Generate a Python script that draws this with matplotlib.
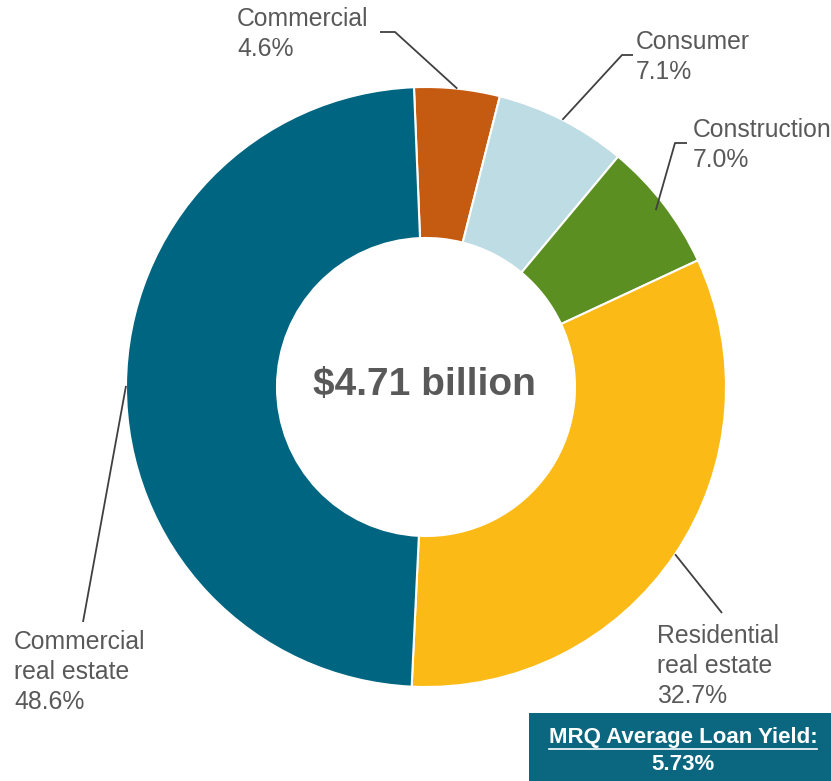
import numpy as np
import matplotlib.pyplot as plt
from matplotlib.patches import Rectangle

plt.rcParams['font.family'] = ['Liberation Sans', 'DejaVu Sans']

# loan portfolio mix, clockwise from the top
categories = ['Commercial', 'Consumer', 'Construction', 'Residential\nreal estate', 'Commercial\nreal estate']
shares = [4.6, 7.1, 7.0, 32.7, 48.6]
colors = ['#C55A11', '#BDDCE4', '#5B8F22', '#FBBA16', '#006580']
total_label = '$4.71 billion'
yield_label = 'MRQ Average Loan Yield:'
yield_value = '5.73%'

W, H = 831, 781
def Y(y):
    return H - y

fig = plt.figure(figsize=(W / 100, H / 100), dpi=100)
ax = fig.add_axes([0, 0, 1, 1])

cx, cy, R = 426, Y(387), 300
wedges, _ = ax.pie(shares, colors=colors, startangle=92.3, counterclock=False,
                   radius=R, center=(cx, cy),
                   wedgeprops=dict(width=151, edgecolor='white', linewidth=1.5))

ax.text(cx - 2, Y(385), total_label, ha='center', va='center', fontsize=28,
        fontweight='bold', color='#595959')

# label positions (left x, block centre y) and leader line elbows
label_pos = [(237, 34), (636, 57), (693, 145), (657, 666), (14, 672)]
elbows = [[(395, 32), (380, 32)],
          [(622, 55), (633, 55)],
          [(675, 143), (687, 143)],
          [(722, 613)],
          [(83, 622)]]
start_r = [300, 300, 290, 300, 300]

for w, cat, val, (lx, ly), elb, sr in zip(wedges, categories, shares, label_pos, elbows, start_r):
    mid = np.deg2rad((w.theta1 + w.theta2) / 2)
    xs = [cx + sr * np.cos(mid)] + [p[0] for p in elb]
    ys = [cy + sr * np.sin(mid)] + [Y(p[1]) for p in elb]
    ax.plot(xs, ys, color='#404040', lw=1.3, solid_capstyle='butt')
    ax.text(lx, Y(ly), f'{cat}\n{val:.1f}%', ha='left', va='center', fontsize=17.8,
            color='#595959', linespacing=1.31)

# yield box in the lower right corner
ax.add_patch(Rectangle((529, 0), W - 529, 68, facecolor='#0B6680', edgecolor='none'))
t1 = ax.text(683, Y(737), yield_label, ha='center', va='center', fontsize=16,
             fontweight='bold', color='white')
ax.text(683, Y(764), yield_value, ha='center', va='center', fontsize=16,
        fontweight='bold', color='white')

ax.set_xlim(0, W)
ax.set_ylim(0, H)
ax.set_aspect('equal')
ax.axis('off')

# underline the box heading
fig.canvas.draw()
bb = t1.get_window_extent().transformed(ax.transData.inverted())
ax.plot([bb.x0, bb.x1], [Y(749), Y(749)], color='white', lw=1.2)

fig.savefig('out.png', dpi=100, facecolor='white')
